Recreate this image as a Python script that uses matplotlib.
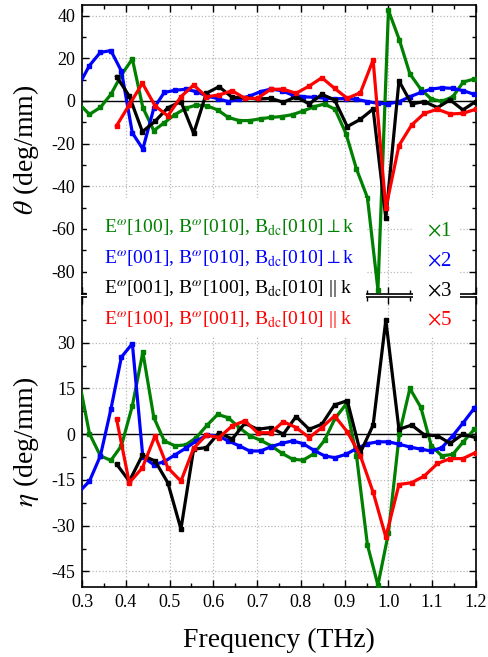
import matplotlib
matplotlib.use('Agg')
import matplotlib.pyplot as plt
from matplotlib.ticker import MultipleLocator
from matplotlib.patches import Rectangle

plt.rcParams['font.family'] = ['Liberation Serif', 'DejaVu Serif']
plt.rcParams['mathtext.fontset'] = 'stix'
plt.rcParams['axes.unicode_minus'] = False

# frequency grids (THz): green/blue traces and black/red traces
freq_gb = [0.293, 0.317, 0.342, 0.366, 0.390, 0.415, 0.439, 0.464, 0.488, 0.512,
           0.537, 0.561, 0.586, 0.610, 0.634, 0.659, 0.683, 0.708, 0.732, 0.756,
           0.781, 0.805, 0.830, 0.854, 0.878, 0.903, 0.927, 0.952, 0.976, 1.000,
           1.025, 1.049, 1.074, 1.098, 1.122, 1.147, 1.171, 1.196, 1.220]
freq_rk = [0.379, 0.408, 0.438, 0.467, 0.496, 0.526, 0.555, 0.584, 0.613, 0.643,
           0.672, 0.701, 0.731, 0.760, 0.789, 0.819, 0.848, 0.877, 0.906, 0.936,
           0.965, 0.994, 1.024, 1.053, 1.082, 1.112, 1.141, 1.170, 1.199]

# rotation theta (deg/mm)
theta_green = [-1.2, -6.3, -3.0, 3.1, 12.2, 19.7, -3.1, -13.9, -10.2, -6.4,
               -3.4, -1.9, -2.3, -4.2, -7.7, -9.2, -9.2, -8.3, -7.7, -7.3,
               -6.4, -4.7, -2.7, -1.4, -3.9, -15.3, -31.9, -45.3, -88.5, 42.5,
               28.6, 12.7, 5.5, 0.9, -0.2, 2.0, 8.9, 10.3, 11.0]
theta_blue = [7.5, 16.6, 22.8, 23.6, 14.0, -15.0, -22.5, -3.4, 4.0, 5.0,
              5.5, 4.4, 2.3, 1.1, -0.3, 0.8, 2.3, 4.4, 5.6, 4.8,
              2.8, 2.0, 1.7, 1.3, 1.1, 1.1, 0.8, -0.3, -1.1, -1.3,
              -0.3, 2.0, 4.0, 5.6, 6.2, 5.9, 4.8, 3.1, 2.0]
theta_black = [11.4, 2.3, -14.4, -9.5, -3.2, -0.3, -15.2, 3.6, 6.7, 1.7,
               1.6, 0.9, 1.25, -0.6, 2.0, -1.4, 3.1, 0.5, -12.0, -8.6,
               -3.75, -55.0, 9.4, -1.4, -0.3, -3.1, 0.5, -4.2, -0.3]
theta_red = [-11.6, -1.8, 8.3, -2.3, -7.0, 2.0, 7.5, 2.0, 2.8, 4.8,
             1.25, 1.25, 5.5, 5.5, 3.6, 7.0, 10.9, 5.9, 1.25, 3.9,
             19.2, -50.3, -20.9, -11.25, -5.8, -3.9, -6.1, -5.8, -3.9]

# ellipticity eta (deg/mm)
eta_green = [17.9, 0.2, -7.1, -8.6, -3.8, 9.3, 26.9, 5.5, -2.2, -3.8,
             -3.5, -1.1, 3.0, 6.5, 5.4, 2.2, -0.5, -2.0, -3.8, -6.2,
             -8.2, -8.5, -6.4, -2.0, 5.2, 9.8, -7.0, -36.3, -49.5, -32.4,
             0.2, 15.0, 8.8, -3.8, -7.1, -6.6, -2.5, 1.6, 3.0]
eta_blue = [-19.0, -15.4, -7.1, 8.2, 25.3, 29.7, -7.5, -10.0, -9.0, -6.8,
            -4.6, -2.2, -0.3, -0.5, -2.2, -3.8, -5.5, -5.5, -4.1, -3.0,
            -2.2, -3.1, -5.3, -7.1, -7.7, -6.6, -4.7, -3.1, -2.5, -2.5,
            -3.3, -4.2, -4.9, -5.5, -4.4, -0.5, 3.8, 8.5, 12.0]
eta_black = [-9.8, -15.4, -6.9, -8.8, -15.9, -31.1, -4.9, -4.4, 0.5, -1.6,
             3.6, 1.6, 2.2, 0.0, 5.8, 1.6, 3.3, 9.6, 11.0, -6.0,
             3.0, 37.4, 1.6, 3.0, -0.2, -0.5, -3.0, 0.0, -1.1]
eta_red = [4.9, -15.9, -11.0, -0.5, -11.0, -15.4, -4.6, -0.3, -1.1, 2.7,
           4.4, 0.5, 0.5, 4.1, 2.2, -1.1, 2.2, 6.0, 0.8, -7.1,
           -19.0, -33.7, -16.5, -15.9, -13.7, -9.6, -8.0, -8.0, -6.0]

labels = [r'E$^{\omega}$[100], B$^{\omega}$[010], B$_{\rm dc}$[010]$\perp$k',
          r'E$^{\omega}$[001], B$^{\omega}$[010], B$_{\rm dc}$[010]$\perp$k',
          r'E$^{\omega}$[001], B$^{\omega}$[100], B$_{\rm dc}$[010] || k',
          r'E$^{\omega}$[100], B$^{\omega}$[001], B$_{\rm dc}$[010] || k']
factors = [r'$\times$1', r'$\times$2', r'$\times$3', r'$\times$5']
colors = ['#008000', '#0000ff', 'black', '#ff0000']

fig = plt.figure(figsize=(4.89, 6.57), dpi=100)
ax1 = fig.add_axes([0.1677, 0.5525, 0.8057, 0.4399])
ax2 = fig.add_axes([0.1677, 0.1061, 0.8057, 0.4414])

line_kw = dict(lw=2.3, marker='s', ms=2.8, zorder=3)
ax1.plot(freq_gb, theta_green, color=colors[0], **line_kw)
ax1.plot(freq_gb, theta_blue, color=colors[1], **line_kw)
ax1.plot(freq_rk, theta_black, color=colors[2], **line_kw)
ax1.plot(freq_rk, theta_red, color=colors[3], **line_kw)

ax2.plot(freq_gb, eta_green, color=colors[0], **line_kw)
ax2.plot(freq_gb, eta_blue, color=colors[1], **line_kw)
ax2.plot(freq_rk, eta_black, color=colors[2], **line_kw)
ax2.plot(freq_rk, eta_red, color=colors[3], **line_kw)

for ax in [ax1, ax2]:
    ax.axhline(0, color='black', linewidth=1, zorder=2)
    ax.set_xlim(0.3, 1.2)
    ax.xaxis.set_major_locator(MultipleLocator(0.1))
    ax.xaxis.set_minor_locator(MultipleLocator(0.05))
    ax.grid(True, which='major', linestyle=':', color='#b8b8b8', linewidth=0.9)
    ax.tick_params(which='both', direction='in', top=True, right=True, width=1)
    ax.tick_params(which='major', length=5, labelsize=13, pad=5)
    ax.tick_params(which='minor', length=3)
    for sp in ax.spines.values():
        sp.set_linewidth(1.2)
    ax.yaxis.set_label_coords(-0.105, 0.5)

ax1.set_ylim(-90.5, 45)
ax1.yaxis.set_major_locator(MultipleLocator(20))
ax1.yaxis.set_minor_locator(MultipleLocator(10))
ax1.tick_params(labelbottom=False)
ax1.set_ylabel(r'$\theta$ (deg/mm)', fontsize=20)

ax2.set_ylim(-50.2, 44.9)
ax2.yaxis.set_major_locator(MultipleLocator(15))
ax2.yaxis.set_minor_locator(MultipleLocator(7.5))
ax2.xaxis.set_major_formatter(plt.FormatStrFormatter('%.1f'))
ax2.set_ylabel(r'$\eta$ (deg/mm)', fontsize=20)
ax2.set_xlabel('Frequency (THz)', fontsize=20, labelpad=12)

# white blocks behind the legend text, hiding the join between panels
fig.add_artist(Rectangle((0.1779, 0.4871), 0.5706, 0.2115, transform=fig.transFigure,
                         facecolor='white', edgecolor='none', zorder=5))
fig.add_artist(Rectangle((0.8446, 0.4871), 0.0961, 0.2115, transform=fig.transFigure,
                         facecolor='white', edgecolor='none', zorder=5))

label_y = [0.6446, 0.5989, 0.5521, 0.5053]
factor_y = [0.6400, 0.5944, 0.5487, 0.5046]
for lab, fac, c, ly, fy in zip(labels, factors, colors, label_y, factor_y):
    fig.text(0.2127, ly, lab, color=c, fontsize=14, va='baseline', ha='left', zorder=6)
    fig.text(0.8732, fy, fac, color=c, fontsize=15, va='baseline', ha='left', zorder=6)

plt.savefig('out.png', dpi=100)
plt.close()
